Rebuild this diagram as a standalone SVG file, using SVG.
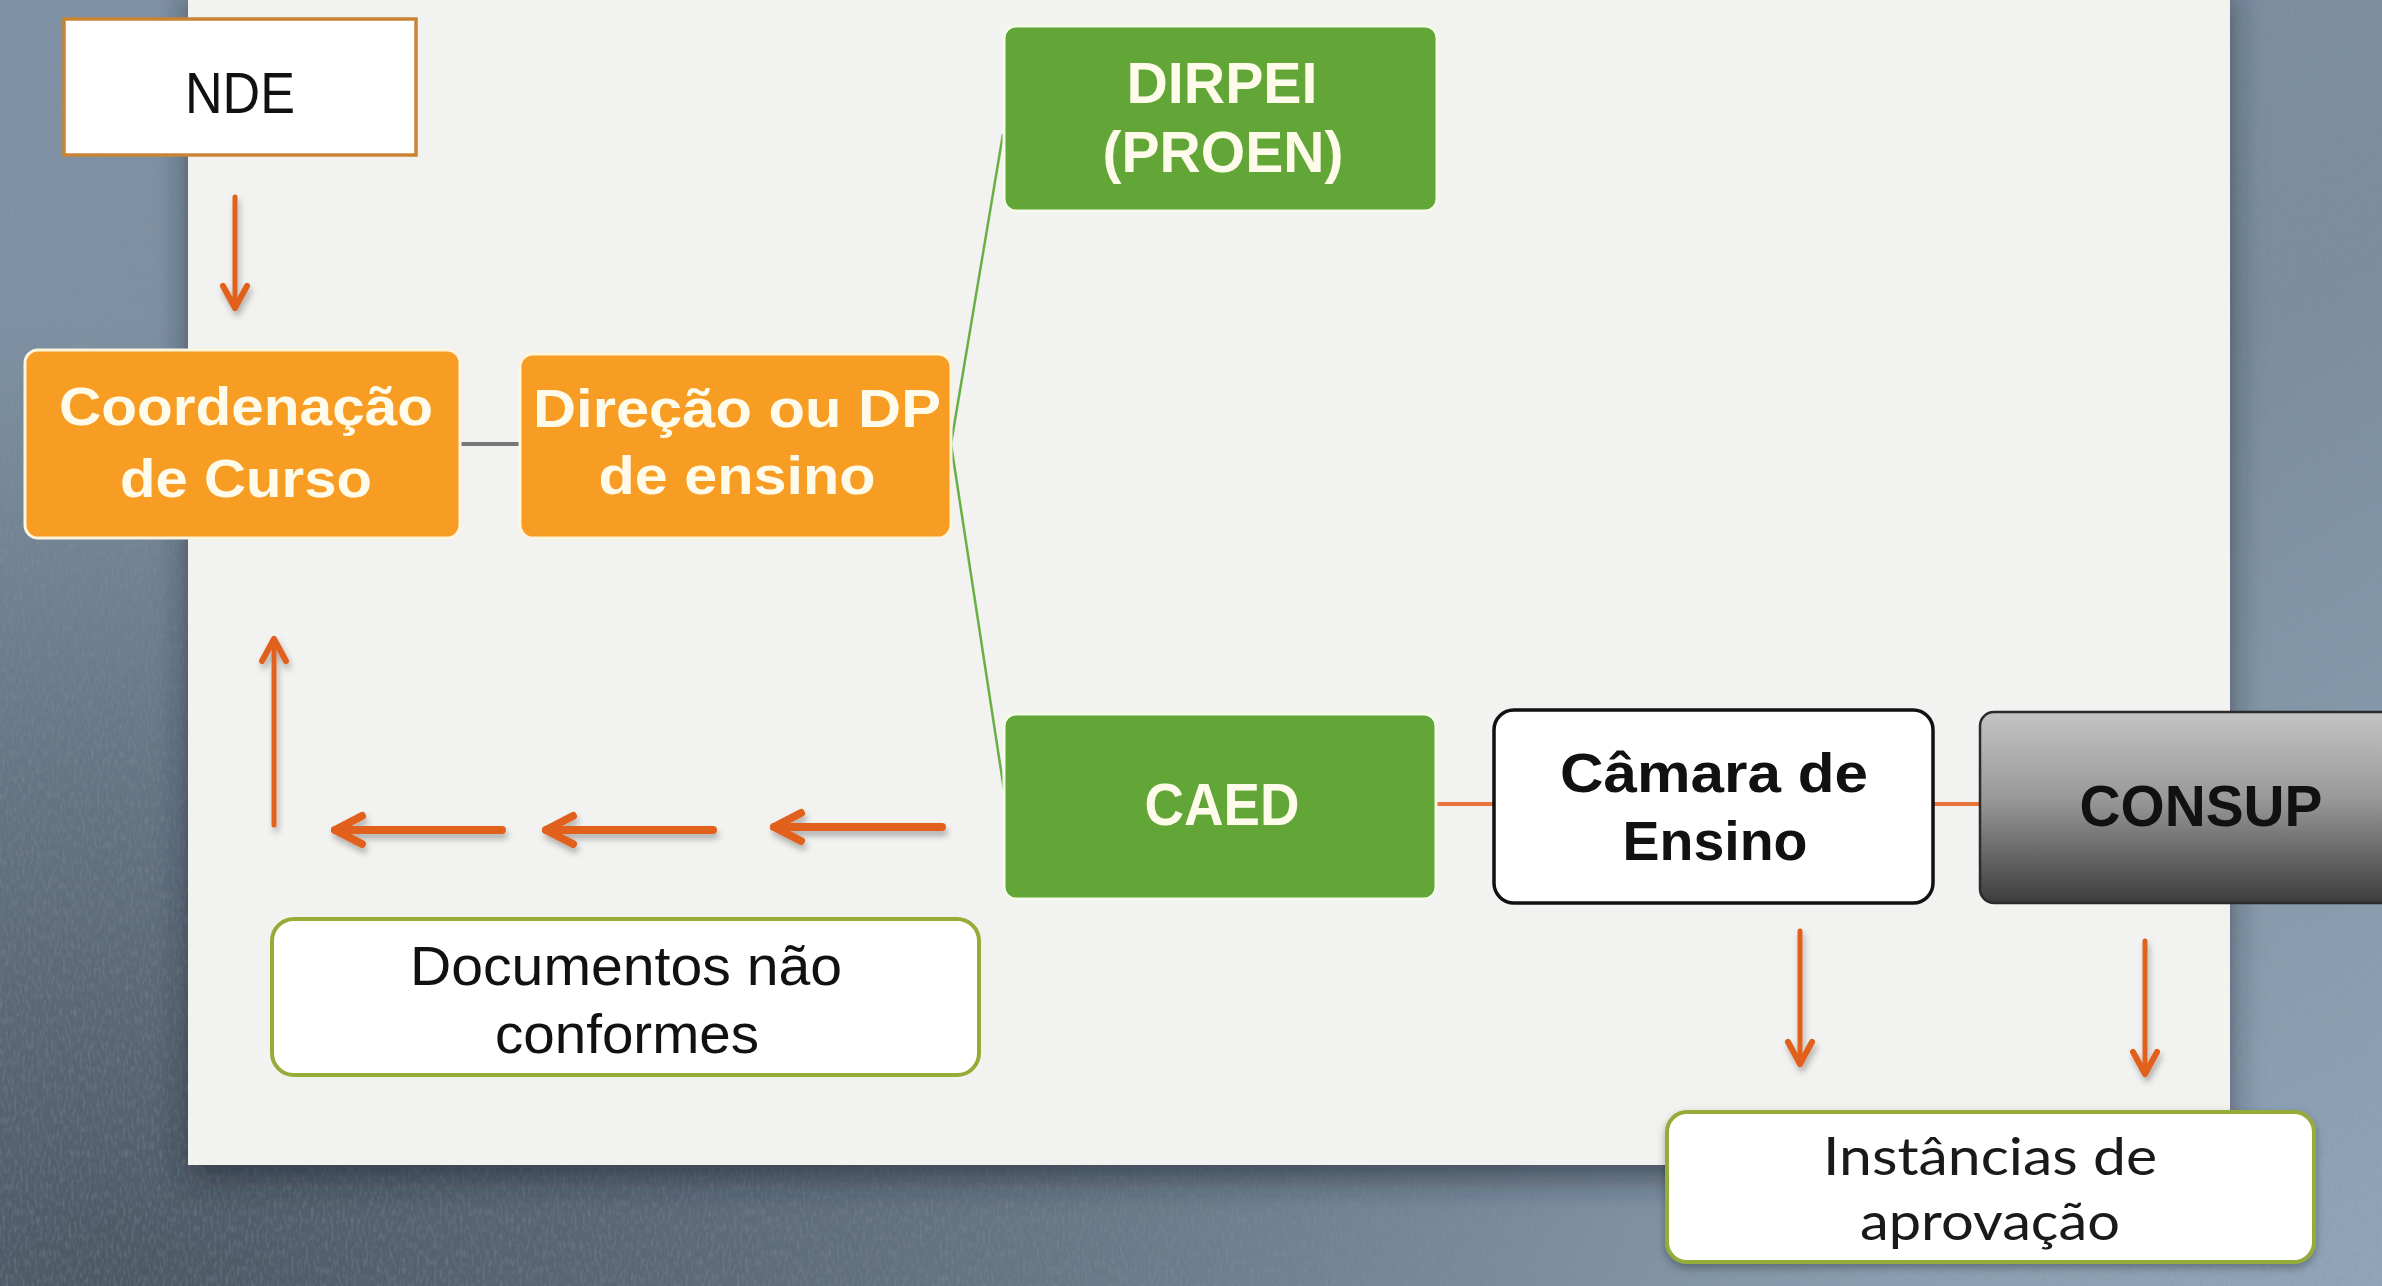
<svg xmlns="http://www.w3.org/2000/svg" width="2382" height="1286" viewBox="0 0 2382 1286">
<defs>
<style>
.t{font-family:"Liberation Sans",Arial,sans-serif;text-anchor:middle}
.wb{fill:#fffbea;font-weight:bold}
.bk{fill:#111111}
.bb{fill:#111111;font-weight:bold}
.hu{font-family:Lato,"Liberation Sans",sans-serif;fill:#1a1a1a;text-anchor:middle}
.org{fill:#f89d24;stroke:#fff4dc;stroke-width:3}
.grn{fill:#62a638;stroke:#f4fbe9;stroke-width:3}
.olv{fill:#ffffff;stroke:#95ad38;stroke-width:4}
.arr{fill:none;stroke:#e0601e;stroke-linecap:round}
</style>
<radialGradient id="bgDark" cx="0.05" cy="1" r="0.75">
<stop offset="0" stop-color="#4c5864"/>
<stop offset="1" stop-color="#4c5864" stop-opacity="0"/>
</radialGradient>
<linearGradient id="bgBase" x1="0" y1="0" x2="1" y2="1">
<stop offset="0" stop-color="#7f92a5"/>
<stop offset="0.6" stop-color="#7a8c9e"/>
<stop offset="1" stop-color="#92a6b9"/>
</linearGradient>
<linearGradient id="gray" x1="0" y1="0" x2="0" y2="1">
<stop offset="0" stop-color="#c4c4c4"/>
<stop offset="0.45" stop-color="#999999"/>
<stop offset="1" stop-color="#3c3c3c"/>
</linearGradient>
<filter id="noise" x="0" y="0" width="100%" height="100%">
<feTurbulence type="fractalNoise" baseFrequency="0.35 0.12" numOctaves="2" seed="3" result="n"/>
<feColorMatrix in="n" type="matrix" values="0 0 0 0 0.25  0 0 0 0 0.3  0 0 0 0 0.36  0 0 0 -2.2 1.25"/>
</filter>
<filter id="paperShadow" x="-5%" y="-5%" width="110%" height="115%">
<feDropShadow dx="0" dy="14" stdDeviation="16" flood-color="#1c2630" flood-opacity="0.6"/>
</filter>
<filter id="arrShadow" x="-20%" y="-50%" width="140%" height="200%">
<feDropShadow dx="2" dy="5" stdDeviation="3" flood-color="#000" flood-opacity="0.28"/>
</filter>
<filter id="boxShadow" x="-5%" y="-10%" width="110%" height="130%">
<feDropShadow dx="0" dy="4" stdDeviation="4" flood-color="#000" flood-opacity="0.3"/>
</filter>
<marker id="headThick" markerUnits="userSpaceOnUse" viewBox="-40 -22 48 44" markerWidth="48" markerHeight="44" refX="0" refY="0" orient="auto" overflow="visible">
<path d="M-27,-14 L0,0 L-27,14" fill="none" stroke="#e0601e" stroke-width="8" stroke-linecap="round" stroke-linejoin="round"/>
</marker>
<marker id="headThin" markerUnits="userSpaceOnUse" viewBox="-40 -22 48 44" markerWidth="48" markerHeight="44" refX="0" refY="0" orient="auto" overflow="visible">
<path d="M-22,-12 L0,0 L-22,12" fill="none" stroke="#e0601e" stroke-width="6" stroke-linecap="round" stroke-linejoin="round"/>
</marker>
</defs>

<g id="background">
<rect x="0" y="0" width="2382" height="1286" fill="url(#bgBase)"/>
<rect x="0" y="0" width="2382" height="1286" fill="url(#bgDark)"/>
<rect x="0" y="0" width="2382" height="1286" filter="url(#noise)" opacity="0.35"/>
<rect x="188" y="-20" width="2042" height="1185" fill="#f2f2f1" filter="url(#paperShadow)"/>
</g>

<g id="connectors">
<line x1="460" y1="444" x2="520" y2="444" stroke="#777777" stroke-width="4"/>
<line x1="951" y1="444" x2="1003" y2="134" stroke="#6aaf45" stroke-width="2.5"/>
<line x1="951" y1="444" x2="1004" y2="790" stroke="#6aaf45" stroke-width="2.5"/>
<line x1="1436" y1="804" x2="1494" y2="804" stroke="#e8763a" stroke-width="4"/>
<line x1="1933" y1="804" x2="1980" y2="804" stroke="#e8763a" stroke-width="4"/>
<g filter="url(#arrShadow)">
<line class="arr" x1="235" y1="197" x2="235" y2="308" stroke-width="5" marker-end="url(#headThin)"/>
<line class="arr" x1="274" y1="825" x2="274" y2="639" stroke-width="5" marker-end="url(#headThin)"/>
<line class="arr" x1="502" y1="830" x2="335" y2="830" stroke-width="8" marker-end="url(#headThick)"/>
<line class="arr" x1="713" y1="830" x2="546" y2="830" stroke-width="8" marker-end="url(#headThick)"/>
<line class="arr" x1="942" y1="827" x2="774" y2="827" stroke-width="8" marker-end="url(#headThick)"/>
<line class="arr" x1="1800" y1="931" x2="1800" y2="1064" stroke-width="5" marker-end="url(#headThin)"/>
<line class="arr" x1="2145" y1="941" x2="2145" y2="1074" stroke-width="5" marker-end="url(#headThin)"/>
</g>
</g>

<g id="nde">
<rect x="64" y="19" width="352" height="136" fill="#ffffff" stroke="#c98433" stroke-width="3.5"/>
<text class="t bk" x="240" y="113" font-size="58" textLength="110" lengthAdjust="spacingAndGlyphs">NDE</text>
</g>

<g id="coordenacao">
<rect class="org" x="25" y="350" width="435" height="188" rx="13"/>
<text class="t wb" x="246" y="425" font-size="53" textLength="374" lengthAdjust="spacingAndGlyphs">Coordenação</text>
<text class="t wb" x="246" y="497" font-size="53" textLength="252" lengthAdjust="spacingAndGlyphs">de Curso</text>
</g>

<g id="direcao">
<rect class="org" x="520" y="354" width="431" height="184" rx="13"/>
<text class="t wb" x="737" y="427" font-size="53" textLength="408" lengthAdjust="spacingAndGlyphs">Direção ou DP</text>
<text class="t wb" x="737" y="494" font-size="53" textLength="277" lengthAdjust="spacingAndGlyphs">de ensino</text>
</g>

<g id="dirpei">
<rect class="grn" x="1004" y="26" width="433" height="185" rx="12"/>
<text class="t wb" x="1222" y="103" font-size="57" textLength="191" lengthAdjust="spacingAndGlyphs">DIRPEI</text>
<text class="t wb" x="1223" y="172" font-size="57" textLength="241" lengthAdjust="spacingAndGlyphs">(PROEN)</text>
</g>

<g id="caed">
<rect class="grn" x="1004" y="714" width="432" height="185" rx="12"/>
<text class="t wb" x="1222" y="825" font-size="59" textLength="155" lengthAdjust="spacingAndGlyphs">CAED</text>
</g>

<g id="camara">
<rect x="1494" y="710" width="439" height="193" rx="20" fill="#ffffff" stroke="#111111" stroke-width="3.5"/>
<text class="t bb" x="1714" y="792" font-size="55" textLength="308" lengthAdjust="spacingAndGlyphs">Câmara de</text>
<text class="t bb" x="1715" y="860" font-size="55" textLength="185" lengthAdjust="spacingAndGlyphs">Ensino</text>
</g>

<g id="consup">
<rect x="1980" y="712" width="440" height="191" rx="14" fill="url(#gray)" stroke="#2b2b2b" stroke-width="2.5"/>
<text class="t bb" x="2201" y="826" font-size="58" textLength="243" lengthAdjust="spacingAndGlyphs">CONSUP</text>
</g>

<g id="documentos">
<rect class="olv" x="272" y="919" width="707" height="156" rx="22"/>
<text class="t bk" x="626" y="985" font-size="55" textLength="432" lengthAdjust="spacingAndGlyphs">Documentos não</text>
<text class="t bk" x="627" y="1053" font-size="55" textLength="264" lengthAdjust="spacingAndGlyphs">conformes</text>
</g>

<g id="instancias">
<rect class="olv" x="1667" y="1112" width="647" height="150" rx="20" filter="url(#boxShadow)"/>
<text class="hu" x="1990" y="1175" font-size="52" textLength="334" lengthAdjust="spacingAndGlyphs">Instâncias de</text>
<text class="hu" x="1990" y="1240" font-size="52" textLength="260" lengthAdjust="spacingAndGlyphs">aprovação</text>
</g>
</svg>
